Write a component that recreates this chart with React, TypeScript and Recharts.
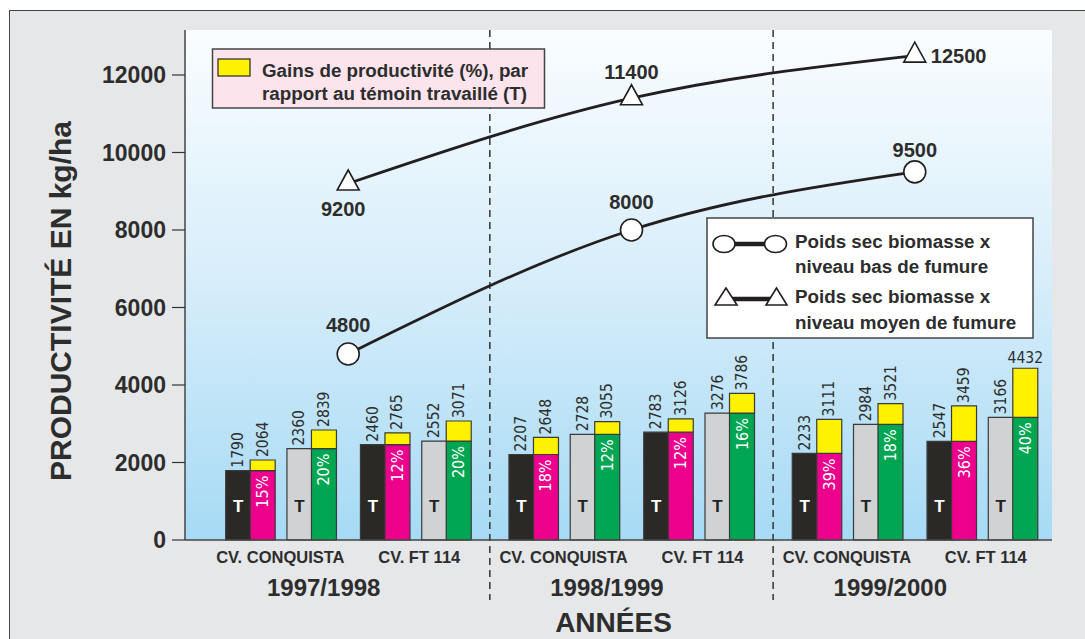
import React from 'react';
import { ComposedChart, Bar, Line, XAxis, YAxis, CartesianGrid, ReferenceArea, ReferenceLine, LabelList, Cell, Label } from 'recharts';

// valeurs
const years = ['1997/1998', '1998/1999', '1999/2000'];
const varieties = ['CV. CONQUISTA', 'CV. FT 114'];
// ordre : année x variété
const temoinBas = [1790, 2460, 2207, 2783, 2233, 2547];
const totalBas = [2064, 2765, 2648, 3126, 3111, 3459];
const gainBas = [15, 12, 18, 12, 39, 36];
const temoinMoyen = [2360, 2552, 2728, 3276, 2984, 3166];
const totalMoyen = [2839, 3071, 3055, 3786, 3521, 4432];
const gainMoyen = [20, 20, 12, 16, 18, 40];
// biomasse sèche
const biomasseBas = [4800, 8000, 9500];
const biomasseMoyen = [9200, 11400, 12500];
const yTicks = [0, 2000, 4000, 6000, 8000, 10000, 12000];

const FONT = "'Liberation Sans', Arial, Helvetica, sans-serif";
const NARROW = "'Liberation Sans Narrow', 'Arial Narrow', 'DejaVu Sans Condensed', sans-serif";
const INK = '#2d2d2d';

const FILL: Record<string, string> = {
  tBas: '#2b2926',
  bas: '#ec008c',
  tMoyen: '#d1d2d4',
  moyen: '#00a651',
};

// layout in bar-width units
const YEAR_STEP = 11.56;
const VARIETY_SHIFT = [0, 5.5];
const X_DOMAIN: [number, number] = [-2.16, 33.22];

type Row = { id: number; x: number; base: number; gain: number; total: number; pct: number | null; kind: string };

const rows: Row[] = [];
years.forEach((_, yi) => {
  varieties.forEach((_, vi) => {
    const k = yi * 2 + vi;
    const x0 = yi * YEAR_STEP + VARIETY_SHIFT[vi];
    rows.push({ id: rows.length, x: x0, base: temoinBas[k], gain: 0, total: temoinBas[k], pct: null, kind: 'tBas' });
    rows.push({ id: rows.length, x: x0 + 1, base: temoinBas[k], gain: totalBas[k] - temoinBas[k], total: totalBas[k], pct: gainBas[k], kind: 'bas' });
    rows.push({ id: rows.length, x: x0 + 2.5, base: temoinMoyen[k], gain: 0, total: temoinMoyen[k], pct: null, kind: 'tMoyen' });
    rows.push({ id: rows.length, x: x0 + 3.5, base: temoinMoyen[k], gain: totalMoyen[k] - temoinMoyen[k], total: totalMoyen[k], pct: gainMoyen[k], kind: 'moyen' });
  });
});
const maxTotal = Math.max(...rows.map(r => r.total));

const lineData = years.map((_, i) => ({ i, x: i * YEAR_STEP + 4.5, bas: biomasseBas[i], moyen: biomasseMoyen[i] }));

// x tick positions: variety names and year names
const tickLabels = new Map<string, { text: string; year: boolean }>();
const xTicks: number[] = [];
years.forEach((yr, yi) => {
  const add = (pos: number, text: string, year: boolean) => {
    xTicks.push(pos);
    tickLabels.set(pos.toFixed(2), { text, year });
  };
  add(yi * YEAR_STEP + 1.73, varieties[0], false);
  add(yi * YEAR_STEP + 3.5, yr, true);
  add(yi * YEAR_STEP + 7.4, varieties[1], false);
});
const dividers = [1, 2].map(i => i * YEAR_STEP - (YEAR_STEP - 9) / 2);

const XTick = (props: any) => {
  const info = tickLabels.get(Number(props.payload.value).toFixed(2));
  if (!info) return null;
  return (
    <text x={props.x} y={info.year ? 596 : 563} textAnchor="middle" fontFamily={FONT} fontWeight="bold"
      fontSize={info.year ? 24 : 16.5} fill={INK}>
      {info.text}
    </text>
  );
};

const renderBarLabel = (p: any) => {
  const r = rows[Number(p.value)];
  if (!r) return null;
  const x = Number(p.x), y = Number(p.y), w = Number(p.width), h = Number(p.height);
  const cx = x + w / 2;
  const bottom = y + h;
  const topY = bottom - (h * r.total) / r.base;
  // the tallest bar runs under the legend, so its value sits flat
  const flat = r.total === maxTotal;
  return (
    <g>
      {flat ? (
        <text x={cx} y={topY - 5} textAnchor="middle" fontFamily={NARROW} fontSize={15.5} fill={INK}>{r.total}</text>
      ) : (
        <text transform={`translate(${cx},${topY - 3}) rotate(-90)`} textAnchor="start" dominantBaseline="central"
          fontFamily={NARROW} fontSize={15.5} fill={INK}>{r.total}</text>
      )}
      {r.pct != null ? (
        <text transform={`translate(${cx},${y + 5}) rotate(-90)`} textAnchor="end" dominantBaseline="central"
          fontFamily={NARROW} fontSize={16} fill="#fff">{r.pct}%</text>
      ) : (
        <text x={cx} y={bottom - 34} textAnchor="middle" dominantBaseline="central" fontFamily={FONT}
          fontWeight="bold" fontSize={17} fill={r.kind === 'tBas' ? '#fff' : '#222'}>T</text>
      )}
    </g>
  );
};

const BAS_OFF = [[0, -29, 'middle'], [0, -28, 'middle'], [0, -22, 'middle']];
const MOYEN_OFF = [[-5, 26, 'middle'], [0, -26, 'middle'], [16, 0, 'start']];

const lineLabel = (values: number[], offs: any[]) => (p: any) => {
  const i = Number(p.value);
  const [dx, dy, anchor] = offs[i];
  return (
    <text x={Number(p.x) + dx} y={Number(p.y) + dy} textAnchor={anchor} dominantBaseline="central"
      fontFamily={FONT} fontWeight="bold" fontSize={20} fill={INK}>{values[i]}</text>
  );
};

const CircleDot = (p: any) => (
  <circle key={`c${p.index}`} cx={p.cx} cy={p.cy} r={11} fill="#fff" stroke="#231f20" strokeWidth={1.6} />
);
const TriangleDot = (p: any) => (
  <polygon key={`t${p.index}`} points={`${p.cx},${p.cy - 13.5} ${p.cx - 11},${p.cy + 6.5} ${p.cx + 11},${p.cy + 6.5}`}
    fill="#fff" stroke="#231f20" strokeWidth={1.6} />
);

const DashedDivider = (p: any) => {
  const top = Math.min(p.y1, p.y2);
  const bottom = Math.max(p.y1, p.y2);
  return <line x1={p.x1} x2={p.x2} y1={top} y2={bottom + 60} stroke="#333" strokeWidth={1.5} strokeDasharray="7 5" />;
};

const Legends = () => (
  <svg width={1085} height={639} style={{ position: 'absolute', left: 0, top: 0, pointerEvents: 'none' }}>
    <rect x={212.5} y={49} width={332} height={59} fill="#fce4ec" stroke="#444" strokeWidth={1.5} />
    <rect x={218} y={59} width={32} height={17} fill="#fff200" stroke="#333" strokeWidth={1.3} />
    <text x={262} y={77} fontFamily={FONT} fontWeight="bold" fontSize={18.8} fill={INK}>Gains de productivité (%), par</text>
    <text x={262} y={100} fontFamily={FONT} fontWeight="bold" fontSize={18.8} fill={INK}>rapport au témoin travaillé (T)</text>

    <rect x={707} y={218} width={326} height={120} fill="#fff" stroke="#444" strokeWidth={1.5} />
    <line x1={735} x2={765} y1={244} y2={244} stroke="#231f20" strokeWidth={4.5} />
    <ellipse cx={724} cy={244} rx={11} ry={8.5} fill="#fff" stroke="#231f20" strokeWidth={1.6} />
    <ellipse cx={775.5} cy={244} rx={11} ry={8.5} fill="#fff" stroke="#231f20" strokeWidth={1.6} />
    <text x={795} y={248} fontFamily={FONT} fontWeight="bold" fontSize={18.8} fill={INK}>Poids sec biomasse x</text>
    <text x={795} y={273} fontFamily={FONT} fontWeight="bold" fontSize={18.8} fill={INK}>niveau bas de fumure</text>
    <line x1={732} x2={770} y1={299} y2={299} stroke="#231f20" strokeWidth={4.5} />
    <polygon points="726,288 715,305 737,305" fill="#fff" stroke="#231f20" strokeWidth={1.6} />
    <polygon points="776.5,288 766,305 787,305" fill="#fff" stroke="#231f20" strokeWidth={1.6} />
    <text x={795} y={303} fontFamily={FONT} fontWeight="bold" fontSize={18.8} fill={INK}>Poids sec biomasse x</text>
    <text x={795} y={329} fontFamily={FONT} fontWeight="bold" fontSize={18.8} fill={INK}>niveau moyen de fumure</text>
  </svg>
);

export default function App() {
  return (
    <div style={{ position: 'absolute', left: 0, top: 0, width: 1085, height: 639, background: '#fff', overflow: 'hidden' }}>
      <div style={{ position: 'absolute', left: 9, top: 10, width: 1100, height: 660, background: '#e6e7e8', border: '1.5px solid #444' }} />
      <div style={{ position: 'absolute', left: 0, top: 0 }}>
        <ComposedChart width={1085} height={639} data={rows} barCategoryGap={0}
          margin={{ top: 30, right: 33, bottom: 0, left: 0 }}>
          <defs>
            <linearGradient id="plotBg" x1="0" y1="0" x2="0" y2="1">
              <stop offset="0%" stopColor="#fafdff" />
              <stop offset="50%" stopColor="#d6edfa" />
              <stop offset="100%" stopColor="#a6daf5" />
            </linearGradient>
          </defs>
          <CartesianGrid horizontal={false} vertical={false} fill="url(#plotBg)" fillOpacity={1} />
          <XAxis dataKey="x" type="number" domain={X_DOMAIN} allowDataOverflow ticks={xTicks} interval={0}
            tick={<XTick />} tickLine={false} height={99} axisLine={{ stroke: '#444', strokeWidth: 1.5 }}>
            <Label content={(p: any) => (
              <text x={p.viewBox.x + p.viewBox.width / 2 - 5} y={p.viewBox.y + 92} textAnchor="middle"
                fontFamily={FONT} fontWeight="bold" fontSize={28} fill={INK}>ANNÉES</text>
            )} />
          </XAxis>
          <XAxis xAxisId="line" dataKey="x" type="number" domain={X_DOMAIN} allowDataOverflow hide />
          <YAxis type="number" domain={[0, 13161]} ticks={yTicks} interval={0} width={185} tickSize={13} tickMargin={6}
            tick={{ fontFamily: FONT, fontWeight: 'bold', fontSize: 23, fill: INK }}
            tickLine={{ stroke: '#333', strokeWidth: 1.2 }} axisLine={{ stroke: '#444', strokeWidth: 1.5 }}>
            <Label content={(p: any) => {
              const cx = 60;
              const cy = p.viewBox.y + p.viewBox.height / 2 + 16;
              return (
                <text transform={`translate(${cx},${cy}) rotate(-90)`} textAnchor="middle" dominantBaseline="central"
                  fontFamily={FONT} fontWeight="bold" fontSize={30} fill={INK}>PRODUCTIVITÉ EN kg/ha</text>
              );
            }} />
          </YAxis>
          {dividers.map(d => (
            <ReferenceLine key={d} x={d} shape={DashedDivider} />
          ))}
          <Bar dataKey="base" stackId="s" isAnimationActive={false} stroke="#3a3a3a" strokeWidth={1.2}>
            {rows.map(r => <Cell key={r.id} fill={FILL[r.kind]} />)}
            <LabelList dataKey="id" content={renderBarLabel} />
          </Bar>
          <Bar dataKey="gain" stackId="s" isAnimationActive={false} fill="#fff200" stroke="#3a3a3a" strokeWidth={1.2} />
          <Line data={lineData} xAxisId="line" dataKey="bas" type="monotone" stroke="#231f20" strokeWidth={2.8}
            dot={CircleDot} activeDot={false} isAnimationActive={false}>
            <LabelList dataKey="i" content={lineLabel(biomasseBas, BAS_OFF)} />
          </Line>
          <Line data={lineData} xAxisId="line" dataKey="moyen" type="monotone" stroke="#231f20" strokeWidth={2.8}
            dot={TriangleDot} activeDot={false} isAnimationActive={false}>
            <LabelList dataKey="i" content={lineLabel(biomasseMoyen, MOYEN_OFF)} />
          </Line>
          <ReferenceArea fill="none" fillOpacity={0} stroke="#444" strokeWidth={1.5} />
        </ComposedChart>
      </div>
      <Legends />
    </div>
  );
}
